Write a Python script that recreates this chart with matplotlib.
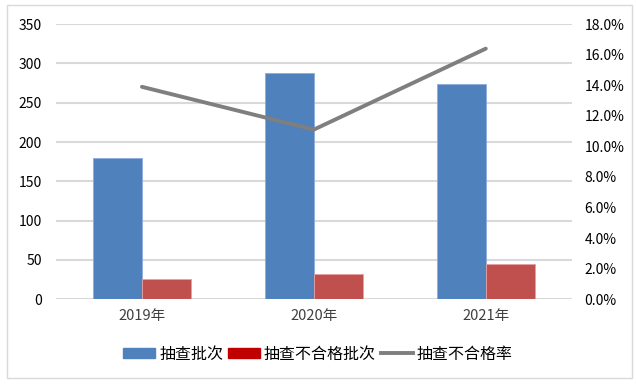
import numpy as np
import matplotlib
matplotlib.use("Agg")
import matplotlib.pyplot as plt
from matplotlib.patches import Patch, Rectangle
from matplotlib.lines import Line2D
from matplotlib.ticker import FuncFormatter

plt.rcParams['font.family'] = ['Noto Sans CJK SC', 'DejaVu Sans']

years = ["2019年", "2020年", "2021年"]
batches = [180, 288, 274]
failed = [25, 32, 45]
fail_rate = [13.9, 11.1, 16.4]

blue = "#4F81BD"
red = "#C0504D"
gray = "#7F7F7F"
grid = "#D9D9D9"
text = "#404040"

fig = plt.figure(figsize=(6.36, 3.84), dpi=100)
fig.patches.append(Rectangle((0.011, 0.016), 0.983, 0.97, transform=fig.transFigure,
                             fill=False, edgecolor="#D9D9D9", linewidth=1))
ax = fig.add_axes([0.088, 0.221, 0.811, 0.716])
x = np.arange(len(years))
w = 0.285
ax.bar(x - w / 2, batches, w, color=blue, edgecolor="#8EAADB", linewidth=0.6, zorder=3)
ax.bar(x + w / 2, failed, w, color=red, edgecolor="#E6A0A0", linewidth=0.6, zorder=3)
ax.set_xlim(-0.5, 2.5)
ax.set_ylim(0, 350)
ax.set_yticks(range(0, 351, 50))
ax.yaxis.grid(True, color=grid, linewidth=1.5, zorder=0)
ax.set_axisbelow(True)
ax.set_xticks(x)
ax.set_xticklabels(years)
for s in ax.spines.values():
    s.set_visible(False)
ax.tick_params(length=0, labelsize=10, labelcolor=text)
ax.tick_params(axis='y', pad=10, labelcolor="#000000")
ax.tick_params(axis='x', pad=7, labelsize=10.5)

ax2 = ax.twinx()
ax2.plot(x, fail_rate, color=gray, linewidth=2.8, solid_capstyle='round', zorder=4)
ax2.set_ylim(0, 18)
ax2.set_yticks(np.arange(0, 18.1, 2))
ax2.yaxis.set_major_formatter(FuncFormatter(lambda v, p: f"{v:.1f}%"))
for s in ax2.spines.values():
    s.set_visible(False)
ax2.tick_params(length=0, labelsize=10, pad=9)

handles = [Patch(color=blue), Patch(color="#C00000"),
           Line2D([0], [0], color=gray, linewidth=2.8)]
labels = ["抽查批次", "抽查不合格批次", "抽查不合格率"]
fig.legend(handles, labels, loc="center", bbox_to_anchor=(0.5, 0.078), ncol=3,
           frameon=False, fontsize=11.5, handlelength=2.0, handleheight=0.6,
           handletextpad=0.25, columnspacing=0.3)

fig.savefig("out.png", dpi=100)
